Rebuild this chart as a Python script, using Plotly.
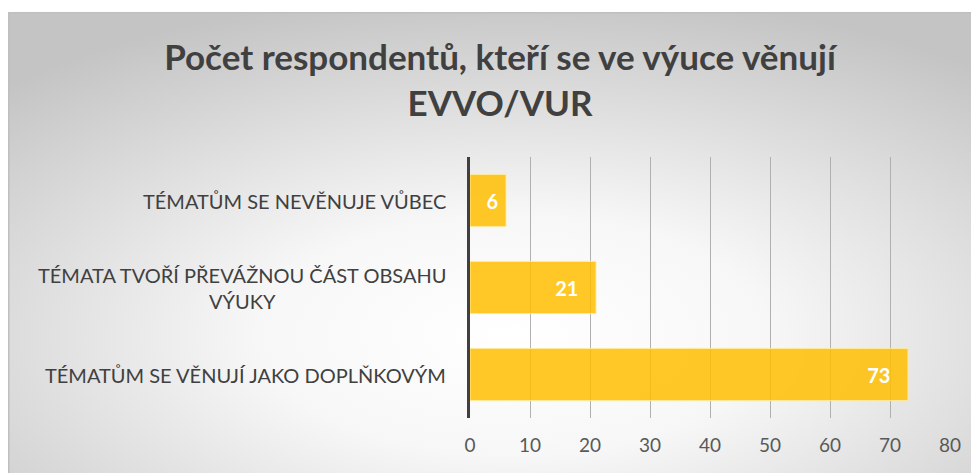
import base64

import plotly.graph_objects as go

_FONT = "Lato"

kategorie = [
    "TÉMATŮM SE NEVĚNUJE VŮBEC",
    "TÉMATA TVOŘÍ PŘEVÁŽNOU ČÁST OBSAHU<br>VÝUKY",
    "TÉMATŮM SE VĚNUJÍ JAKO DOPLŇKOVÝM",
]
pocty = [6, 21, 73]

# radial gradient background of the chart frame (Excel style)
svg = """<svg xmlns='http://www.w3.org/2000/svg' width='971' height='461'>
<defs><radialGradient id='g' cx='52%' cy='70%' r='75%'>
<stop offset='0' stop-color='#ffffff'/><stop offset='0.35' stop-color='#f7f7f7'/>
<stop offset='1' stop-color='#c4c4c4'/></radialGradient></defs>
<rect x='0' y='0' width='971' height='461' fill='url(#g)'/>
<line x1='0' y1='0.75' x2='971' y2='0.75' stroke='#bfbfbf' stroke-width='1.5'/>
<line x1='0.75' y1='0' x2='0.75' y2='461' stroke='#bfbfbf' stroke-width='1.5'/>
</svg>"""
bg = "data:image/svg+xml;base64," + base64.b64encode(svg.encode()).decode()

# trailing nbsp keeps the value label off the bar end, as in Excel
fig = go.Figure(go.Bar(
    x=pocty, y=kategorie, orientation="h",
    marker=dict(color="rgba(255,190,0,0.85)", line=dict(color="rgba(255,235,160,0.9)", width=1)),
    texttemplate=["%{x}\u00a0", "%{x}\u00a0\u00a0\u00a0", "%{x}\u00a0\u00a0\u00a0"],
    textposition="inside", insidetextanchor="end",
    textfont=dict(family=_FONT, size=20, color="white", weight="bold"),
    width=0.6, hoverinfo="x+y",
))

for kat in kategorie:
    fig.add_annotation(text=kat, x=0, y=kat, xref="paper", yref="y", xanchor="right",
                       xshift=-22, showarrow=False, align="center",
                       font=dict(family=_FONT, size=20, color="#404040"))

# plot area: x 462..942, y 149..410 px of the figure
fig.add_layout_image(source=bg, xref="paper", yref="paper", x=-0.9625, y=1.5556,
                     sizex=2.0229, sizey=1.7663, sizing="stretch",
                     xanchor="left", yanchor="top", layer="below")

fig.update_layout(
    width=971, height=465,
    margin=dict(l=462, r=29, t=149, b=55),
    paper_bgcolor="white", plot_bgcolor="rgba(0,0,0,0)",
    title=dict(text="<b>Počet respondentů, kteří se ve výuce věnují<br>EVVO/VUR</b>",
               x=0.5067, xanchor="center", y=0.866, yanchor="top", yref="container",
               font=dict(family=_FONT, size=35, color="#404040")),
    showlegend=False,
    xaxis=dict(range=[0, 80], dtick=10, showgrid=True, gridcolor="#b0b0b0", gridwidth=1,
               zeroline=False, ticks="", ticklabelstandoff=14,
               tickfont=dict(family=_FONT, size=19, color="#595959")),
    yaxis=dict(autorange="reversed", showticklabels=False, showgrid=False,
               showline=True, linecolor="#404040", linewidth=3, ticks=""),
)

fig.write_html("out.html")
